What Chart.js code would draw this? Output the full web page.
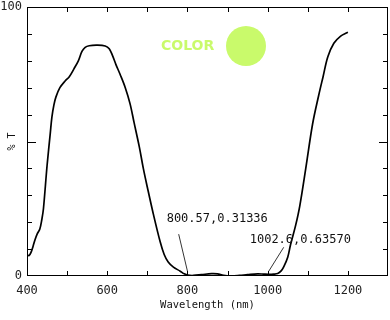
<!DOCTYPE html>
<html>
<head>
<meta charset="utf-8">
<script src="https://cdn.jsdelivr.net/npm/chart.js@4"></script>
<style>
    html, body { margin: 0; padding: 0; background: #fff; }
    #wrap { width: 390px; height: 320px; }
</style>
</head>
<body>
<div id="wrap"><canvas id="specChart" width="390" height="320"></canvas></div>
<script>
// Dữ liệu phổ truyền qua
const wavelengths = [400, 405, 410, 415, 420, 425, 432, 437, 441, 450, 458, 462, 467, 472, 482, 495, 505, 517, 528, 537,
    545, 555, 575, 595, 605, 613, 622, 632, 645, 657, 667, 680, 690, 700, 715, 732, 742, 752, 765, 782,
    792, 800.57, 815, 835, 860, 875, 890, 910, 930, 950, 975, 990, 1002.6, 1015, 1025, 1033, 1040, 1050, 1057, 1070,
    1080, 1095, 1112, 1127, 1138, 1150, 1165, 1182, 1200];
const transmittance = [7.8, 7.6, 8.8, 11, 13.5, 15.5, 17.5, 21, 25, 41, 53, 59, 63.5, 66.5, 70, 72.5, 74, 77, 80, 83.5,
    85, 85.6, 85.8, 85.5, 84.5, 82, 78.5, 75, 70, 64, 57, 48, 40, 33, 23, 12.7, 8, 5.2, 3.3, 1.8,
    0.8, 0.31336, 0.2, 0.5, 0.9, 0.8, 0.2, 0.0, 0.2, 0.5, 0.8, 0.7, 0.6357, 0.7, 0.9, 1.8, 3.4, 7, 11.6, 19,
    26, 40, 56.5, 67, 74, 81.5, 86.5, 89.2, 90.6];

// Nhãn trục
const xTickLabels = [400, 600, 800, 1000, 1200];
const yTickLabels = [0, 100];
const xMinorTicks = [500, 600, 700, 800, 900, 1000, 1100, 1200];
const yMinorTicks = [10, 20, 30, 40, 50, 60, 70, 80, 90];

// Các điểm chú thích
const markers = [
    { x: 800.57, y: 0.31336, label: '800.57,0.31336', dx: -21, dy: -56, lx: -9, ly: -41 },
    { x: 1002.6, y: 0.63570, label: '1002.6,0.63570', dx: -19, dy: -34, lx: 15, ly: -27 }
];

const monoFont = '"DejaVu Sans Mono", monospace';

// Plugin vẽ khung, vạch chia và chú thích
const decorPlugin = {
    id: 'decor',
    afterDraw(chart) {
        const c = chart.ctx;
        const area = chart.chartArea;
        const xs = chart.scales.x;
        const ys = chart.scales.y;
        c.save();
        c.strokeStyle = '#000';
        c.lineWidth = 1;
        c.strokeRect(Math.round(area.left) + 0.5, Math.round(area.top) + 0.5,
            Math.round(area.right - area.left) - 1, Math.round(area.bottom - area.top) - 1);

        c.beginPath();
        xMinorTicks.forEach(v => {
            const px = Math.round(xs.getPixelForValue(v)) + 0.5;
            c.moveTo(px, area.bottom);
            c.lineTo(px, area.bottom - 5);
            c.moveTo(px, area.top);
            c.lineTo(px, area.top + 5);
        });
        yMinorTicks.forEach(v => {
            const py = Math.round(ys.getPixelForValue(v)) + 0.5;
            const len = v === 50 ? 9 : 5;
            c.moveTo(area.left, py);
            c.lineTo(area.left + len, py);
            c.moveTo(area.right, py);
            c.lineTo(area.right - len, py);
        });
        c.stroke();

        // Chú thích điểm
        c.font = '12px ' + monoFont;
        c.fillStyle = '#111';
        c.textBaseline = 'middle';
        c.lineWidth = 0.8;
        markers.forEach(m => {
            const px = xs.getPixelForValue(m.x);
            const py = ys.getPixelForValue(m.y);
            c.fillText(m.label, px + m.dx, py + m.dy);
            c.beginPath();
            c.moveTo(px + m.lx, py + m.ly);
            c.lineTo(px, py - 3);
            c.stroke();
        });

        // Mẫu màu
        c.fillStyle = '#c9fa6b';
        c.font = 'bold 14px "DejaVu Sans", sans-serif';
        c.fillText('COLOR', 161, 46);
        c.beginPath();
        c.arc(246, 46, 20, 0, Math.PI * 2);
        c.fill();
        c.restore();
    }
};

const ctx = document.getElementById('specChart').getContext('2d');
let chart = new Chart(ctx, {
    type: 'line',
    data: {
        datasets: [{
            data: wavelengths.map((w, i) => ({ x: w, y: transmittance[i] })),
            borderColor: '#000',
            borderWidth: 1.7,
            pointRadius: 0,
            fill: false,
            tension: 0.35
        }]
    },
    plugins: [decorPlugin],
    options: {
        responsive: false,
        animation: false,
        layout: { padding: { top: 7, right: 2, left: 0, bottom: 0 } },
        plugins: {
            legend: { display: false },
            tooltip: { enabled: false }
        },
        scales: {
            x: {
                type: 'linear',
                min: 400,
                max: 1300,
                grid: { display: false, drawTicks: false },
                border: { display: false },
                afterBuildTicks: s => { s.ticks = xTickLabels.map(v => ({ value: v })); },
                afterFit: s => { s.height = 44; s.paddingLeft = 0; s.paddingRight = 0; },
                ticks: {
                    padding: 8,
                    color: '#222',
                    maxRotation: 0,
                    autoSkip: false,
                    callback: v => String(v),
                    font: { family: monoFont, size: 12 }
                },
                title: {
                    display: true,
                    text: 'Wavelength (nm)',
                    color: '#111',
                    padding: { top: 0, bottom: 8 },
                    font: { family: monoFont, size: 10.5 }
                }
            },
            y: {
                min: 0,
                max: 100,
                grid: { display: false, drawTicks: false },
                border: { display: false },
                afterBuildTicks: s => { s.ticks = yTickLabels.map(v => ({ value: v })); },
                afterFit: s => { s.width = 27; s.paddingTop = 0; s.paddingBottom = 0; },
                ticks: {
                    padding: 5,
                    color: '#222',
                    autoSkip: false,
                    callback: v => String(v),
                    font: { family: monoFont, size: 12 }
                },
                title: {
                    display: true,
                    text: '% T',
                    color: '#111',
                    padding: { top: 6, bottom: 0 },
                    font: { family: monoFont, size: 10 }
                }
            }
        }
    }
});
</script>
</body>
</html>
